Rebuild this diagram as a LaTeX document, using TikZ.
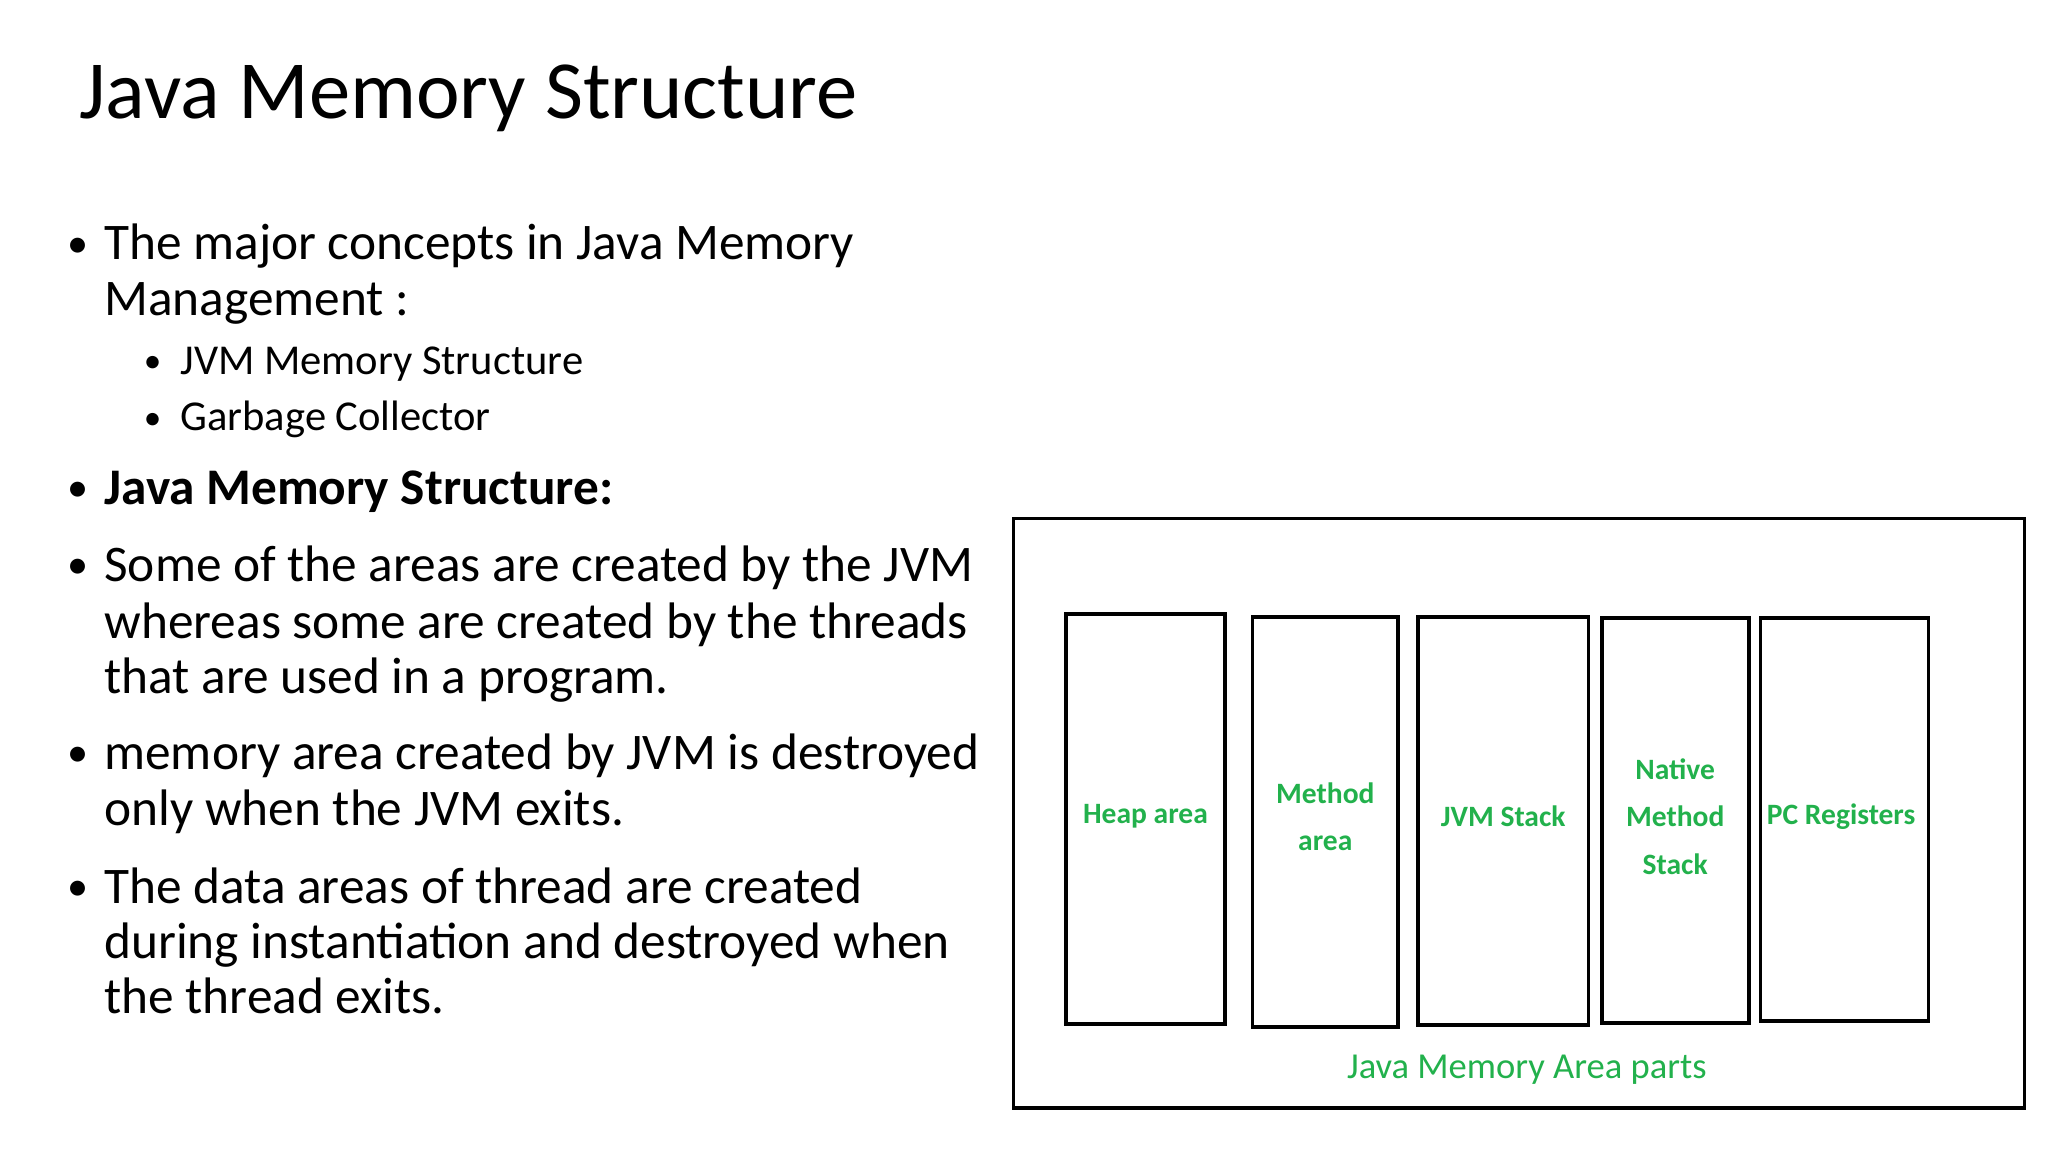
\documentclass[tikz,border=0pt]{standalone}
\usepackage{fontspec}
\setmainfont{Carlito}
\definecolor{areagreen}{RGB}{34,177,76}
\tikzset{
  part/.style={draw=black, line width=1.1pt, inner sep=0pt},
  partlabel/.style={text=areagreen, font=\fontsize{8.4}{13.5}\selectfont\bfseries, align=center},
  line/.style={anchor=base west, inner sep=0pt, font=\fontsize{14.6}{18}\selectfont},
  subline/.style={anchor=base west, inner sep=0pt, font=\fontsize{12.1}{14}\selectfont}
}
\begin{document}
\begin{tikzpicture}[x=0.013128cm, y=-0.013128cm]
		\useasboundingbox (0,0) rectangle (1560,877.5);
		\node[anchor=base west, inner sep=0pt, font=\fontsize{23.5}{30}\selectfont] (title) at (60,90) {Java Memory Structure};
		% bullet points
		\foreach \y/\name/\txt in {
			198/l1/The major concepts in Java Memory,
			240/l2/Management :,
			443/l4/Some of the areas are created by the JVM,
			486/l5/whereas some are created by the threads,
			528/l6/that are used in a program.,
			586/l7/memory area created by JVM is destroyed,
			629/l8/only when the JVM exits.,
			688/l9/The data areas of thread are created,
			730/l10/during instantiation and destroyed when,
			772/l11/the thread exits.
		}{
			\node[line] (\name) at (79,\y) {\txt};
		}
		\node[line, font=\fontsize{14.6}{18}\selectfont\bfseries] (l3) at (79,384) {Java Memory Structure:};
		\foreach \y/\name in {198/b1, 384/b3, 443/b4, 586/b7, 688/b9}{
			\node[line, font=\fontsize{12}{14}\selectfont] (\name) at (51,\y-2) {\textbullet};
		}
		\foreach \y/\name/\txt in {285/s1/JVM Memory Structure, 328/s2/Garbage Collector}{
			\node[subline, font=\fontsize{10}{14}\selectfont] (\name) at (109,\y-1) {\textbullet};
			\node[subline] (\name t) at (137,\y) {\txt};
		}
		% memory area figure
		\draw[line width=1pt] (772,395) rectangle (1542,844);
		\node[inner sep=0pt] (frame) at (1157,619.5) {};
		\foreach \xa/\xb/\ya/\yb/\name/\txt in {
			812/933/468/780/heap/Heap area,
			954/1065/470/782/method/Method\\area,
			1080/1210/470/781/jvm/JVM Stack,
			1220/1332/471/779/native/Native\\Method\\Stack,
			1341/1469/471/778/pc/PC Registers
		}{
			\draw[part] (\xa,\ya) rectangle (\xb,\yb);
			\node[partlabel] (\name) at ({(\xa+\xb)/2},622) {\txt};
		}
		\node[text=areagreen, font=\fontsize{10.4}{14}\selectfont] (caption) at (1163,815) {Java Memory Area parts};
	\end{tikzpicture}
\end{document}
